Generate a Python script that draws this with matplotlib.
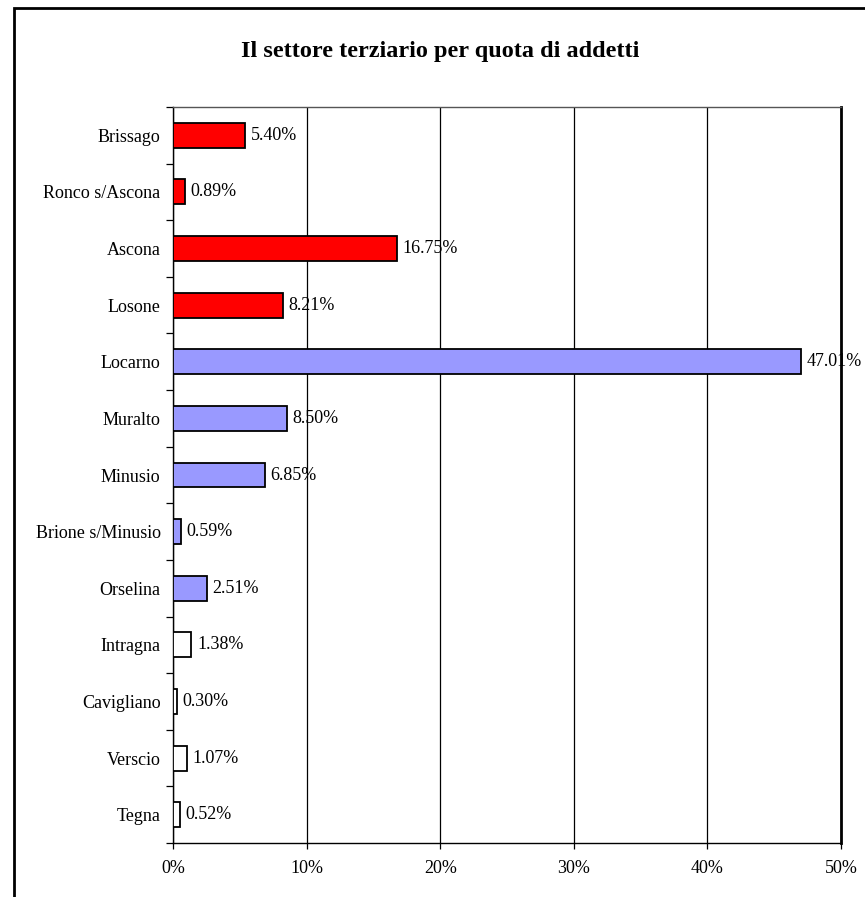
import matplotlib
matplotlib.use("Agg")
import matplotlib.pyplot as plt
from matplotlib.patches import Rectangle
from matplotlib.ticker import FuncFormatter, MultipleLocator

comuni = ["Brissago", "Ronco s/Ascona", "Ascona", "Losone", "Locarno", "Muralto",
          "Minusio", "Brione s/Minusio", "Orselina", "Intragna", "Cavigliano",
          "Verscio", "Tegna"]
quote = [5.40, 0.89, 16.75, 8.21, 47.01, 8.50, 6.85, 0.59, 2.51, 1.38, 0.30, 1.07, 0.52]
colori = ["#FF0000"] * 4 + ["#9999FF"] * 5 + ["#FFFFFF"] * 4

plt.rcParams["font.family"] = ["Liberation Serif", "DejaVu Serif"]

fig = plt.figure(figsize=(8.65, 8.97), dpi=100)
ax = fig.add_axes([0.2, 0.0602, 0.7723, 0.8205])

n = len(comuni)
ypos = list(range(n))[::-1]
ax.barh(ypos, quote, height=0.44, color=colori, edgecolor="black", linewidth=1.3, zorder=3)

for y, v in zip(ypos, quote):
    ax.annotate(f"{v:.2f}%", xy=(v, y), xytext=(4, 0), textcoords="offset points",
                va="center", ha="left", fontsize=13, zorder=4)

ax.set_xlim(0, 50)
ax.set_ylim(-0.5, n - 0.5)
ax.xaxis.set_major_locator(MultipleLocator(10))
ax.xaxis.set_major_formatter(FuncFormatter(lambda x, p: f"{x:.0f}%"))
ax.grid(axis="x", color="black", linewidth=0.9, zorder=1)

ax.set_yticks(ypos)
ax.set_yticklabels(comuni, fontsize=13)
ax.set_yticks([i + 0.5 for i in range(-1, n)], minor=True)
ax.tick_params(axis="y", which="major", length=0, pad=9)
ax.tick_params(axis="y", which="minor", length=5, width=0.9, direction="out")
ax.tick_params(axis="x", length=4, width=0.9, direction="out", labelsize=13, pad=8)

for side in ("left", "bottom"):
    ax.spines[side].set_linewidth(1.0)
ax.spines["right"].set_linewidth(2.0)
ax.spines["top"].set_linewidth(1.0)
ax.spines["top"].set_color("#555555")

fig.text(0.509, 0.943, "Il settore terziario per quota di addetti",
         ha="center", va="center", fontsize=17.5, fontweight="bold")

# outer frame of the chart area
frame = Rectangle((14 / 865, -0.1), 1.2, 1.1 - 8 / 897, transform=fig.transFigure,
                  fill=False, edgecolor="black", linewidth=2.0, clip_on=False)
fig.patches.append(frame)

fig.savefig("out.png", dpi=100)
